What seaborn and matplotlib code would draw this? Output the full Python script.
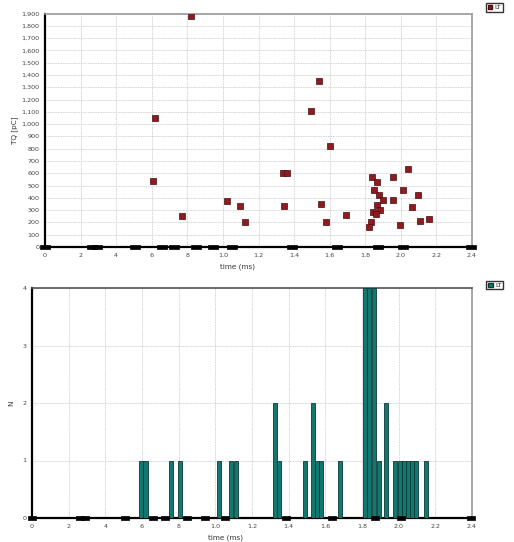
import matplotlib
matplotlib.use("Agg")
import matplotlib.pyplot as plt
import matplotlib.ticker as mticker
from matplotlib.lines import Line2D
from matplotlib.patches import Patch
import seaborn as sns
import pandas as pd

# ---------------- data ----------------
lt_time = [0.819, 0.618, 0.607, 0.768, 1.024, 1.094, 1.124, 1.539, 1.496, 1.601,
           1.340, 1.362, 1.344, 1.552, 1.582, 1.691, 1.837, 1.867, 1.850, 1.876,
           1.901, 1.865, 1.882, 1.841, 1.863, 1.830, 1.820, 1.957, 2.038, 2.010,
           2.094, 1.957, 2.060, 2.107, 2.161, 1.994]
lt_charge = [1878, 1052, 536, 255, 373, 337, 206, 1351, 1104, 818,
             604, 604, 337, 351, 206, 258, 566, 527, 462, 424,
             381, 340, 299, 288, 269, 206, 166, 566, 631, 465,
             421, 381, 324, 212, 228, 177]

zero_time = [0.0, 0.262, 0.290, 0.506, 0.659, 0.725, 0.847, 0.944, 1.052,
             1.386, 1.639, 1.871, 2.013, 2.397]
zero_val = [0] * len(zero_time)

bin_center = [0.597, 0.619, 0.756, 0.805, 1.018, 1.087, 1.112, 1.323, 1.346,
              1.487, 1.532, 1.555, 1.578, 1.678, 1.817, 1.840, 1.863, 1.891,
              1.933, 1.982, 2.005, 2.028, 2.051, 2.074, 2.097, 2.149]
bin_count = [1, 1, 1, 1, 1, 1, 1, 2, 1,
             1, 2, 1, 1, 1, 4, 4, 4, 1,
             2, 1, 1, 1, 1, 1, 1, 1]
bin_width = 0.022

x_ticks = [0, 0.2, 0.4, 0.6, 0.8, 1.0, 1.2, 1.4, 1.6, 1.8, 2.0, 2.2, 2.4]
x_ticklabels = ["0", "2", "4", "6", "8", "1.0", "1.2", "1.4", "1.6", "1.8", "2.0", "2.2", "2.4"]

# ---------------- style ----------------
sns.set_theme(style="white")
plt.rcParams["font.family"] = ["DejaVu Sans"]

RED = "#8e1b1f"
TEAL = "#12786f"
fs = 4.6

fig = plt.figure(figsize=(5.14, 5.42), dpi=100)
ax1 = fig.add_axes([45/514, 1-247/542, (472-45)/514, (247-13.5)/542])
ax2 = fig.add_axes([32/514, 1-518/542, (472-32)/514, (518-288)/542])

rect = [(-2.2, -1.1), (2.2, -1.1), (2.2, 1.1), (-2.2, 1.1), (-2.2, -1.1)]

def style_axes(ax):
    ax.set_xlim(0, 2.4)
    ax.set_xticks(x_ticks)
    ax.set_xticklabels(x_ticklabels)
    ax.tick_params(axis="both", labelsize=fs, colors="#444444", length=2, width=0.6,
                   direction="out", pad=2)
    ax.grid(True, color="#d2d2d2", linewidth=0.6, linestyle=(0, (2, 1)))
    ax.set_axisbelow(True)
    ax.spines["left"].set_color("black")
    ax.spines["bottom"].set_color("black")
    ax.spines["left"].set_linewidth(1.6)
    ax.spines["bottom"].set_linewidth(1.6)
    ax.spines["top"].set_color("#9a9a9a")
    ax.spines["right"].set_color("#9a9a9a")
    ax.spines["top"].set_linewidth(1.2)
    ax.spines["right"].set_linewidth(1.2)
    ax.set_xlabel("time (ms)", fontsize=fs + 0.6, color="#333333", labelpad=1)

# ---------------- top scatter ----------------
df_lt = pd.DataFrame({"time": lt_time, "charge": lt_charge})
df_zero = pd.DataFrame({"time": zero_time, "charge": zero_val})
sns.scatterplot(data=df_lt, x="time", y="charge", ax=ax1, marker="s", s=14,
                color=RED, edgecolor="#4a0c0e", linewidth=0.5, zorder=3, legend=False)
sns.scatterplot(data=df_zero, x="time", y="charge", ax=ax1, marker=rect, s=42,
                color="black", edgecolor="black", linewidth=0.5, zorder=4,
                legend=False, clip_on=False)
style_axes(ax1)
ax1.set_ylim(0, 1900)
ax1.set_yticks(range(0, 2000, 100))
ax1.yaxis.set_major_formatter(mticker.FuncFormatter(lambda v, p: f"{int(v):,}"))
ax1.set_ylabel("TQ [pC]", fontsize=fs + 0.6, color="#333333", labelpad=2)
ax1.xaxis.set_label_coords(0.45, -0.07)

# ---------------- bottom bars ----------------
ax2.bar(bin_center, bin_count, width=bin_width, color=TEAL, edgecolor="#0a3a36",
        linewidth=0.6, zorder=3)
sns.scatterplot(data=df_zero, x="time", y="charge", ax=ax2, marker=rect, s=36,
                color="black", edgecolor="black", linewidth=0.5, zorder=4,
                legend=False, clip_on=False)
style_axes(ax2)
ax2.set_ylim(0, 4)
ax2.set_yticks([0, 1, 2, 3, 4])
ax2.spines["top"].set_color("#555555")
ax2.set_ylabel("N", fontsize=fs + 0.6, color="#333333", labelpad=6)
ax2.xaxis.set_label_coords(0.44, -0.07)

# ---------------- legends ----------------
h1 = [Line2D([0], [0], marker="s", color="w", markerfacecolor=RED,
             markeredgecolor="#4a0c0e", markersize=3.5, label="LT")]
fig.legend(handles=h1, loc="upper left", bbox_to_anchor=(486/514, 1-3/542),
           fontsize=fs, frameon=True, edgecolor="black", fancybox=False,
           handlelength=0.8, handletextpad=0.3, borderpad=0.25, borderaxespad=0)
h2 = [Patch(facecolor=TEAL, edgecolor="#0a3a36", label="LT")]
fig.legend(handles=h2, loc="upper left", bbox_to_anchor=(486/514, 1-281/542),
           fontsize=fs, frameon=True, edgecolor="black", fancybox=False,
           handlelength=0.9, handleheight=0.6, handletextpad=0.3, borderpad=0.25,
           borderaxespad=0)

fig.savefig("out.png", dpi=100)
